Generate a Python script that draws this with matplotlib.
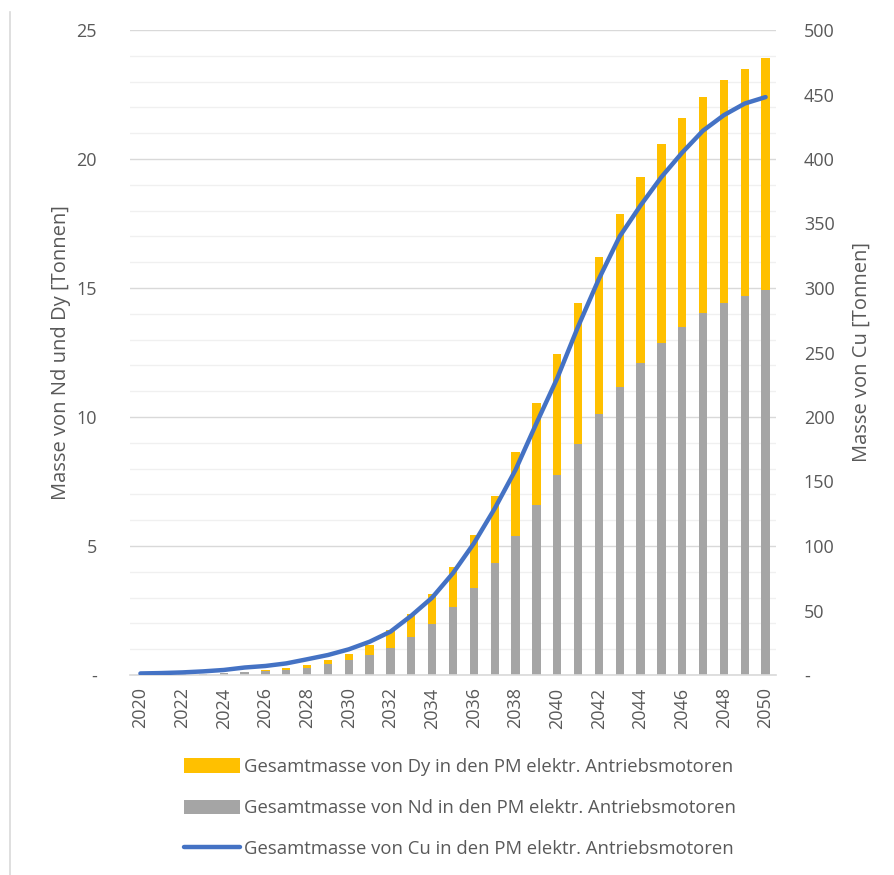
import matplotlib
matplotlib.use("Agg")
import matplotlib.pyplot as plt
from matplotlib.patches import Patch
from matplotlib.lines import Line2D
from matplotlib.ticker import MultipleLocator, FuncFormatter

plt.rcParams['font.family'] = ['Open Sans', 'DejaVu Sans']

years = list(range(2020, 2051))
nd_mass = [0.01, 0.015, 0.02, 0.035, 0.06, 0.10, 0.14, 0.20, 0.29, 0.43,
           0.58, 0.79, 1.06, 1.47, 1.96, 2.63, 3.38, 4.34, 5.40, 6.57,
           7.75, 8.97, 10.10, 11.15, 12.10, 12.88, 13.50, 14.03, 14.42, 14.70,
           14.93]
dy_mass = [0.005, 0.005, 0.01, 0.015, 0.02, 0.03, 0.05, 0.07, 0.10, 0.16,
           0.25, 0.38, 0.67, 0.89, 1.19, 1.55, 2.05, 2.61, 3.26, 3.96,
           4.70, 5.43, 6.10, 6.72, 7.22, 7.70, 8.10, 8.37, 8.64, 8.80,
           8.97]
cu_mass = [1.2, 1.5, 2.0, 2.8, 3.9, 5.8, 7.0, 9.0, 12.2, 15.5,
           19.9, 25.8, 33.6, 46.0, 60.0, 79.0, 102.0, 129.0, 159.0, 195.0,
           230.0, 270.0, 307.0, 340.0, 364.0, 386.0, 405.0, 422.0, 434.0, 443.0,
           448.0]
xtick_years = list(range(2020, 2051, 2))

labels = ["Gesamtmasse von Dy in den PM elektr. Antriebsmotoren",
          "Gesamtmasse von Nd in den PM elektr. Antriebsmotoren",
          "Gesamtmasse von Cu in den PM elektr. Antriebsmotoren"]

c_dy = "#FFC000"
c_nd = "#A5A5A5"
c_cu = "#4472C4"
c_txt = "#595959"

W, H = 895, 875
fig = plt.figure(figsize=(W / 100, H / 100), dpi=100)
ax = fig.add_axes([130 / W, 1 - 675 / H, (776 - 130) / W, (675 - 30) / H])
ax2 = ax.twinx()

x = list(range(len(years)))
ax.bar(x, nd_mass, width=0.4, color=c_nd, zorder=2)
ax.bar(x, dy_mass, width=0.4, bottom=nd_mass, color=c_dy, zorder=2)
ax2.plot(x, cu_mass, color=c_cu, lw=3.2, solid_capstyle='round', zorder=3)

ax.set_xlim(-0.5, len(years) - 0.5)
ax.set_ylim(0, 25)
ax2.set_ylim(0, 500)

ax.yaxis.set_major_locator(MultipleLocator(5))
ax.yaxis.set_minor_locator(MultipleLocator(1))
ax2.yaxis.set_major_locator(MultipleLocator(50))

dash0 = FuncFormatter(lambda v, p: "-" if abs(v) < 1e-9 else f"{v:g}")
ax.yaxis.set_major_formatter(dash0)
ax2.yaxis.set_major_formatter(dash0)

ax.grid(which='major', axis='y', color="#D9D9D9", lw=1.0, zorder=0)
ax.grid(which='minor', axis='y', color="#F0F0F0", lw=1.0, zorder=0)
ax.set_axisbelow(True)

ax.set_xticks([years.index(y) for y in xtick_years])
ax.set_xticklabels([str(y) for y in xtick_years], rotation=90)

for a in (ax, ax2):
    for s in a.spines.values():
        s.set_visible(False)
    a.tick_params(which='both', length=0, colors=c_txt, labelsize=13)
ax.spines['bottom'].set_visible(True)
ax.spines['bottom'].set_color("#D9D9D9")
ax.spines['bottom'].set_linewidth(1.2)
ax.tick_params(axis='y', pad=24)
ax2.tick_params(axis='y', pad=20)
ax.tick_params(axis='x', pad=9)

ax.set_ylabel("Masse von Nd und Dy [Tonnen]", color=c_txt, fontsize=14.5, labelpad=4)
ax2.set_ylabel("Masse von Cu [Tonnen]", color=c_txt, fontsize=14.5, labelpad=12)

handles = [Patch(facecolor=c_dy, edgecolor='none'),
           Patch(facecolor=c_nd, edgecolor='none'),
           Line2D([0], [0], color=c_cu, lw=3.2, solid_capstyle='round')]
fig.legend(handles, labels, loc='center', bbox_to_anchor=(460 / W, 1 - 808 / H),
           ncol=1, frameon=False, fontsize=13.3, labelcolor=c_txt,
           handlelength=3.0, handleheight=0.8, handletextpad=0.2,
           labelspacing=1.25)

# chart frame edge
fig.add_artist(Line2D([10 / W, 10 / W], [0, 1 - 12 / H], color="#D9D9D9", lw=1.2))

fig.savefig("out.png", dpi=100)
